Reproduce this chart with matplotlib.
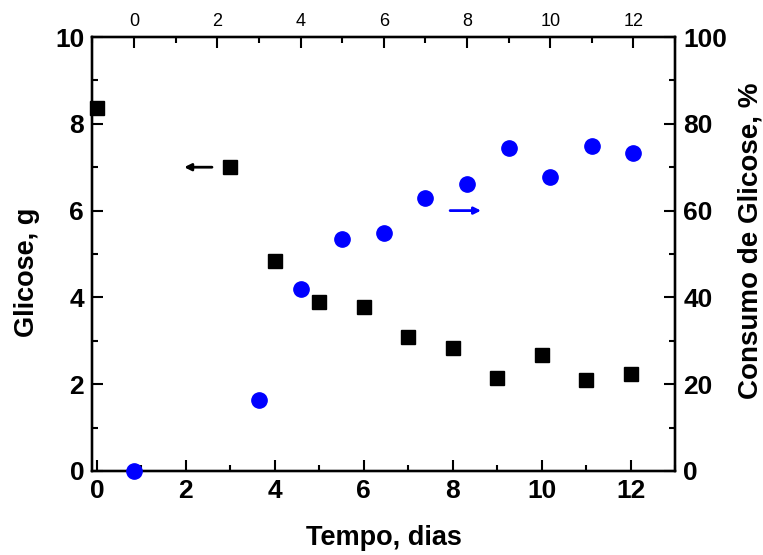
import numpy as np
import matplotlib.pyplot as plt
from matplotlib.ticker import MultipleLocator

plt.rcParams['font.family'] = ['Liberation Sans', 'DejaVu Sans']

# glucose (g) vs time (days), bottom/left axes
dias = [0, 3, 4, 5, 6, 7, 8, 9, 10, 11, 12]
glicose = [8.36, 7.0, 4.85, 3.90, 3.77, 3.09, 2.84, 2.14, 2.68, 2.09, 2.23]

# glucose consumption (%) vs time, top/right axes
dias_consumo = [0, 3, 4, 5, 6, 7, 8, 9, 10, 11, 12]
consumo = [0, 16.4, 41.9, 53.4, 54.9, 63.0, 66.1, 74.4, 67.7, 75.0, 73.3]

fig = plt.figure(figsize=(7.63, 5.55), dpi=100)
ax = fig.add_axes([0.1212, 0.1514, 0.7635, 0.7819])
ax2 = ax.twinx().twiny()

ax.plot(dias, glicose, 's', color='black', ms=9.5, clip_on=False, zorder=5)
ax2.plot(dias_consumo, consumo, 'o', color='#0000ff', ms=11, clip_on=False, zorder=5)

ax.set_xlim(-0.1, 13.0)
ax.set_ylim(0, 10)
ax2.set_xlim(-1, 13)
ax2.set_ylim(0, 100)

# arrows showing which axis each series belongs to
ax.annotate('', xy=(1.9, 7.0), xytext=(2.65, 7.0),
            arrowprops=dict(arrowstyle='-|>', color='black', lw=2, mutation_scale=10))
ax.annotate('', xy=(8.7, 6.0), xytext=(7.88, 6.0),
            arrowprops=dict(arrowstyle='-|>', color='#0000ff', lw=2, mutation_scale=10))

ax.xaxis.set_major_locator(MultipleLocator(2))
ax.xaxis.set_minor_locator(MultipleLocator(1))
ax.yaxis.set_major_locator(MultipleLocator(2))
ax.yaxis.set_minor_locator(MultipleLocator(1))
ax2.xaxis.set_major_locator(MultipleLocator(2))
ax2.xaxis.set_minor_locator(MultipleLocator(1))

right = fig.axes[1]
right.set_ylim(0, 100)
right.yaxis.set_major_locator(MultipleLocator(20))
right.yaxis.set_minor_locator(MultipleLocator(10))

for a in [ax, right, ax2]:
    for s in a.spines.values():
        s.set_linewidth(1.6)

ax.tick_params(axis='both', which='major', direction='in', length=8, width=1.5,
               labelsize=19, pad=6)
ax.tick_params(axis='both', which='minor', direction='in', length=4, width=1.5)
ax.tick_params(axis='x', top=False)
ax.tick_params(axis='y', right=False)
right.tick_params(axis='y', which='major', direction='in', length=8, width=1.5,
                  labelsize=19, pad=6)
right.tick_params(axis='y', which='minor', direction='in', length=4, width=1.5)
ax2.tick_params(axis='x', which='major', direction='in', length=8, width=1.5,
                labelsize=13, pad=5)
ax2.tick_params(axis='x', which='minor', direction='in', length=4, width=1.5)

for lab in ax.get_xticklabels() + ax.get_yticklabels() + right.get_yticklabels():
    lab.set_fontweight('bold')

ax.set_xlabel('Tempo, dias', fontsize=19.5, fontweight='bold', va='center')
ax.set_ylabel('Glicose, g', fontsize=19.5, fontweight='bold', va='center')
right.set_ylabel('Consumo de Glicose, %', fontsize=20, fontweight='bold', va='center')
ax.xaxis.set_label_coords(0.5, -0.154)
ax.yaxis.set_label_coords(-0.113, 0.458)
right.yaxis.set_label_coords(1.13, 0.53)

fig.savefig('out.png', dpi=100)
